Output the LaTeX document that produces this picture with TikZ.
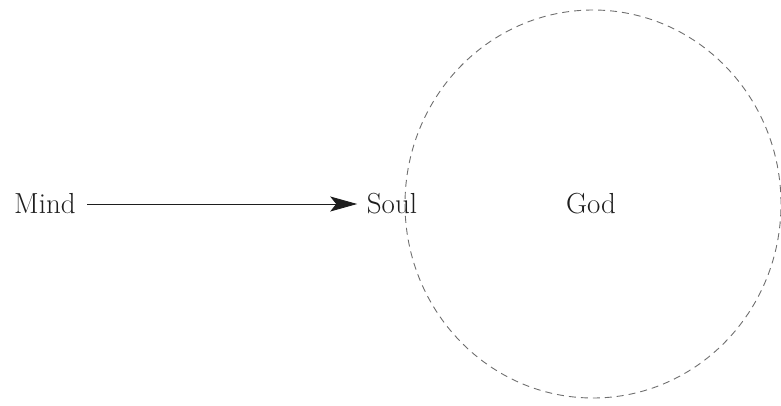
\documentclass[tikz,border=0pt]{standalone}
\usepackage{tikz}
\usetikzlibrary{arrows.meta,positioning}
\definecolor{inkdark}{RGB}{30,30,30}
\definecolor{ringgrey}{RGB}{110,110,110}
\tikzset{
  >={Stealth[length=27pt,width=15pt,inset=6pt]},
  flow/.style={->, line width=0.9pt, draw=inkdark, fill=inkdark, shorten <=5.5pt, shorten >=3.5pt},
  ring/.style={draw=ringgrey, line width=0.9pt, dash pattern=on 7pt off 5pt},
  word/.style={text=inkdark, inner sep=6pt, font=\fontsize{29}{34}\selectfont}
}
\begin{document}
\begin{tikzpicture}[x=1pt,y=1pt]
  \useasboundingbox (0,0) rectangle (781,405);
  \node[word] (mind) at (45,201) {Mind};
  \node[word] (soul) at (392,201) {Soul};
  \node[word] (god) at (591,201) {God};

  \draw[ring] (593,201) ellipse [x radius=188, y radius=194];
  \draw[flow] (mind) -- (soul);
\end{tikzpicture}
\end{document}
